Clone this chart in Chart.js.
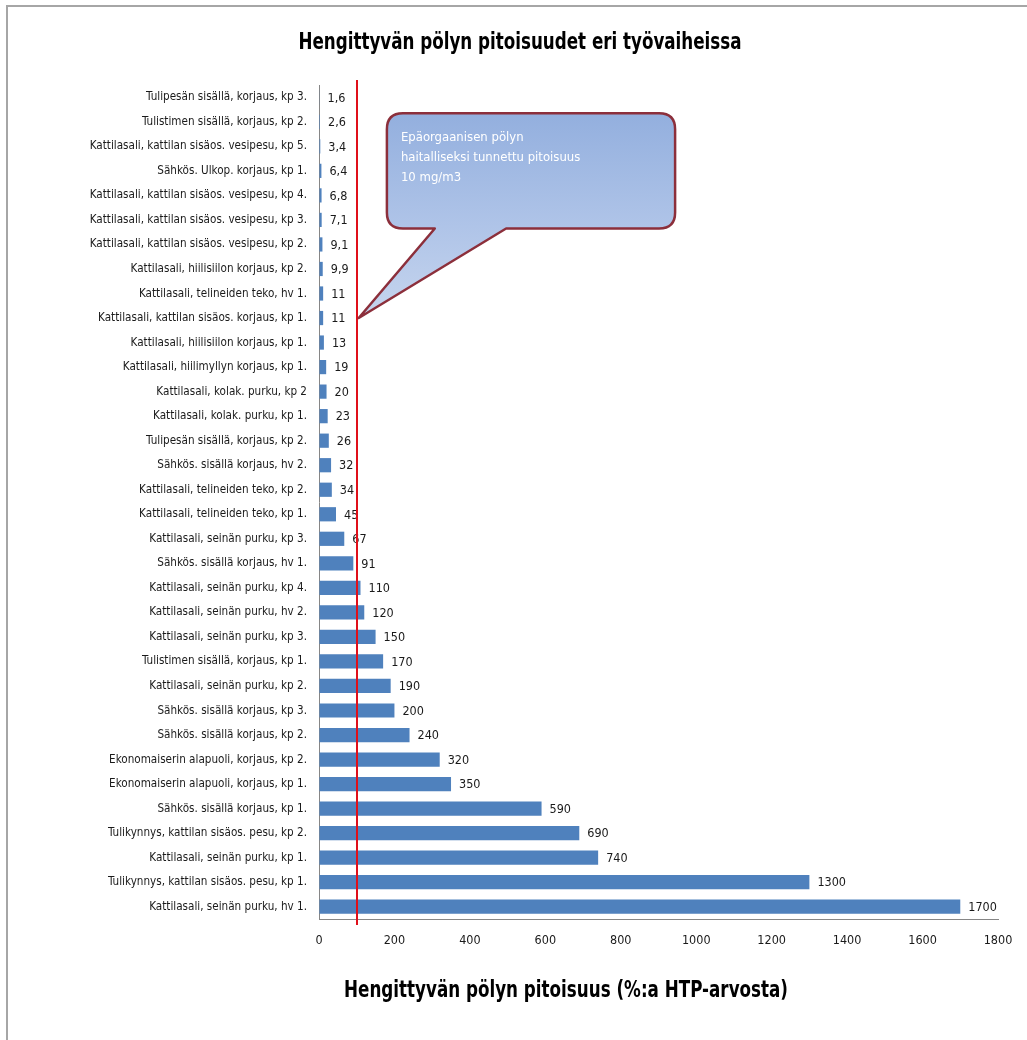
<!DOCTYPE html>
<html>
<head>
<meta charset="utf-8">
<script src="https://cdn.jsdelivr.net/npm/chart.js@4/dist/chart.umd.min.js"></script>
<style>
html,body{margin:0;padding:0;background:#fff;}
#wrap{position:relative;width:1027px;height:1040px;}
</style>
</head>
<body>
<div id="wrap"><canvas id="c" width="1027" height="1040"></canvas></div>
<script>
// ---- data ----
const categories = [
  "Tulipesän sisällä, korjaus, kp 3.",
  "Tulistimen sisällä, korjaus, kp 2.",
  "Kattilasali, kattilan sisäos. vesipesu, kp 5.",
  "Sähkös. Ulkop. korjaus, kp 1.",
  "Kattilasali, kattilan sisäos. vesipesu, kp 4.",
  "Kattilasali, kattilan sisäos. vesipesu, kp 3.",
  "Kattilasali, kattilan sisäos. vesipesu, kp 2.",
  "Kattilasali, hiilisiilon korjaus, kp 2.",
  "Kattilasali, telineiden teko, hv 1.",
  "Kattilasali, kattilan sisäos. korjaus, kp 1.",
  "Kattilasali, hiilisiilon korjaus, kp 1.",
  "Kattilasali, hiilimyllyn korjaus, kp 1.",
  "Kattilasali, kolak. purku, kp 2",
  "Kattilasali, kolak. purku, kp 1.",
  "Tulipesän sisällä, korjaus, kp 2.",
  "Sähkös. sisällä korjaus, hv 2.",
  "Kattilasali, telineiden teko, kp 2.",
  "Kattilasali, telineiden teko, kp 1.",
  "Kattilasali, seinän purku, kp 3.",
  "Sähkös. sisällä korjaus, hv 1.",
  "Kattilasali, seinän purku, kp 4.",
  "Kattilasali, seinän purku, hv 2.",
  "Kattilasali, seinän purku, kp 3.",
  "Tulistimen sisällä, korjaus, kp 1.",
  "Kattilasali, seinän purku, kp 2.",
  "Sähkös. sisällä korjaus, kp 3.",
  "Sähkös. sisällä korjaus, kp 2.",
  "Ekonomaiserin alapuoli, korjaus, kp 2.",
  "Ekonomaiserin alapuoli, korjaus, kp 1.",
  "Sähkös. sisällä korjaus, kp 1.",
  "Tulikynnys, kattilan sisäos. pesu, kp 2.",
  "Kattilasali, seinän purku, kp 1.",
  "Tulikynnys, kattilan sisäos. pesu, kp 1.",
  "Kattilasali, seinän purku, hv 1."
];
const values = [
  1.6, 2.6, 3.4, 6.4, 6.8, 7.1, 9.1, 9.9, 11, 11,
  13, 19, 20, 23, 26, 32, 34, 45, 67, 91,
  110, 120, 150, 170, 190, 200, 240, 320, 350, 590,
  690, 740, 1300, 1700
];
const xTicks = [0, 200, 400, 600, 800, 1000, 1200, 1400, 1600, 1800];
const limitValue = 100;
const chartTitle = "Hengittyvän pölyn pitoisuudet eri työvaiheissa";
const axisTitle = "Hengittyvän pölyn pitoisuus (%:a HTP-arvosta)";
const calloutLines = ["Epäorgaanisen pölyn", "haitalliseksi tunnettu pitoisuus", "10 mg/m3"];

// ---- style / layout ----
const FONT = '"Liberation Sans Narrow", "DejaVu Sans Condensed", "Arial Narrow", sans-serif';
const BAR_COLOR = '#4f81bd';
const AXIS_COLOR = '#868686';
const TEXT_COLOR = '#1a1a1a';
// callout geometry in data units (x: value, y: category index)
const calloutBox = {x0: 180, x1: 944, y0: 0.65, y1: 5.35};
const calloutTail = {baseX0: 307, baseX1: 496, tipIndex: 9};

function fitText(ctx, text, cx, cy, targetW) {
  const w = ctx.measureText(text).width;
  const s = targetW / w;
  ctx.save();
  ctx.translate(cx, cy);
  ctx.scale(s, 1);
  ctx.textAlign = 'center';
  ctx.textBaseline = 'middle';
  ctx.fillText(text, 0, 0);
  ctx.restore();
}

const framePlugin = {
  id: 'frame',
  beforeDraw(chart) {
    const ctx = chart.ctx;
    ctx.save();
    ctx.fillStyle = '#fff';
    ctx.fillRect(0, 0, chart.width, chart.height);
    ctx.strokeStyle = '#a6a6a6';
    ctx.lineWidth = 2;
    ctx.strokeRect(7, 6, chart.width + 20, chart.height + 20);
    ctx.restore();
  }
};

const overlayPlugin = {
  id: 'overlay',
  afterDatasetsDraw(chart) {
    const ctx = chart.ctx;
    const xs = chart.scales.x, area = chart.chartArea;
    const meta = chart.getDatasetMeta(0);
    ctx.save();
    ctx.font = '12.5px ' + FONT;
    ctx.fillStyle = TEXT_COLOR;
    ctx.textAlign = 'left';
    ctx.textBaseline = 'middle';
    meta.data.forEach((bar, i) => {
      const txt = String(values[i]).replace('.', ',');
      ctx.fillText(txt, bar.x + 8, bar.y + 1);
    });
    const lx = Math.round(xs.getPixelForValue(limitValue));
    ctx.strokeStyle = '#e0101a';
    ctx.lineWidth = 2;
    ctx.beginPath();
    ctx.moveTo(lx, area.top - 5);
    ctx.lineTo(lx, area.bottom + 6);
    ctx.stroke();
    ctx.restore();
  },
  afterDraw(chart) {
    const ctx = chart.ctx;
    const xs = chart.scales.x, ys = chart.scales.y;
    const x0 = xs.getPixelForValue(calloutBox.x0), x1 = xs.getPixelForValue(calloutBox.x1);
    const step = ys.getPixelForValue(1) - ys.getPixelForValue(0);
    const y0 = ys.getPixelForValue(0) + step * calloutBox.y0;
    const y1 = ys.getPixelForValue(0) + step * calloutBox.y1;
    const bx0 = xs.getPixelForValue(calloutTail.baseX0), bx1 = xs.getPixelForValue(calloutTail.baseX1);
    const tx = xs.getPixelForValue(limitValue) + 2, ty = ys.getPixelForValue(calloutTail.tipIndex);
    const r = 16;
    ctx.save();
    const g = ctx.createLinearGradient(0, y0, 0, ty);
    g.addColorStop(0, '#93afde');
    g.addColorStop(0.55, '#afc4e8');
    g.addColorStop(1, '#c6d5ee');
    ctx.beginPath();
    ctx.moveTo(x0 + r, y0);
    ctx.lineTo(x1 - r, y0);
    ctx.quadraticCurveTo(x1, y0, x1, y0 + r);
    ctx.lineTo(x1, y1 - r);
    ctx.quadraticCurveTo(x1, y1, x1 - r, y1);
    ctx.lineTo(bx1, y1);
    ctx.lineTo(tx, ty);
    ctx.lineTo(bx0, y1);
    ctx.lineTo(x0 + r, y1);
    ctx.quadraticCurveTo(x0, y1, x0, y1 - r);
    ctx.lineTo(x0, y0 + r);
    ctx.quadraticCurveTo(x0, y0, x0 + r, y0);
    ctx.closePath();
    ctx.fillStyle = g;
    ctx.fill();
    ctx.strokeStyle = '#8c2f3b';
    ctx.lineWidth = 2.5;
    ctx.lineJoin = 'round';
    ctx.stroke();
    ctx.fillStyle = '#ffffff';
    ctx.font = '13px ' + FONT;
    ctx.textAlign = 'left';
    ctx.textBaseline = 'middle';
    calloutLines.forEach((l, i) => ctx.fillText(l, x0 + 14, y0 + 24 + i * 20));
    // titles
    ctx.fillStyle = '#000';
    ctx.font = 'bold 23px ' + FONT;
    fitText(ctx, chartTitle, 520, 43, 443);
    fitText(ctx, axisTitle, 566, 991, 444);
    ctx.restore();
  }
};

new Chart(document.getElementById('c'), {
  type: 'bar',
  data: {
    labels: categories,
    datasets: [{
      data: values,
      backgroundColor: BAR_COLOR,
      borderWidth: 0,
      barPercentage: 0.58,
      categoryPercentage: 1.0
    }]
  },
  options: {
    indexAxis: 'y',
    responsive: false,
    animation: false,
    devicePixelRatio: 1,
    layout: {padding: {top: 85, right: 29, bottom: 0, left: 0}},
    plugins: {legend: {display: false}, title: {display: false}, tooltip: {enabled: false}},
    scales: {
      x: {
        type: 'linear',
        min: xTicks[0],
        max: xTicks[xTicks.length - 1],
        afterBuildTicks(scale) { scale.ticks = xTicks.map(v => ({value: v})); },
        afterFit(scale) { scale.height = 121; },
        grid: {display: true, drawOnChartArea: false, drawTicks: false},
        border: {display: true, color: AXIS_COLOR, width: 1},
        ticks: {padding: 14, color: TEXT_COLOR, font: {family: FONT, size: 12.5},
                callback: v => String(v)}
      },
      y: {
        afterFit(scale) { scale.width = 319; },
        grid: {display: true, drawOnChartArea: false, drawTicks: false},
        border: {display: true, color: AXIS_COLOR, width: 1},
        ticks: {padding: 12, color: TEXT_COLOR, autoSkip: false, font: {family: FONT, size: 11.6}}
      }
    }
  },
  plugins: [framePlugin, overlayPlugin]
});
</script>
</body>
</html>
